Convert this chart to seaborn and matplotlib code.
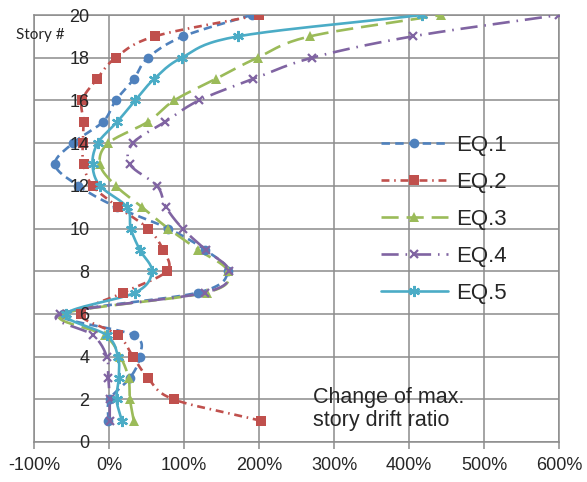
import numpy as np
import pandas as pd
import matplotlib
matplotlib.use("Agg")
import matplotlib.pyplot as plt
import seaborn as sns
from matplotlib.lines import Line2D

stories = list(range(1, 21))
eq1 = [-1, 1, 28, 41, 33, -62, 119, 158, 128, 79, 10, -41, -72, -48, -8, 9, 33, 52, 99, 190]
eq2 = [202, 86, 52, 32, 12, -38, 19, 77, 72, 52, 12, -22, -34, -35, -34, -36, -16, 9, 61, 200]
eq3 = [33, 28, 26, 15, -6, -62, 130, 158, 119, 79, 44, 9, -12, -1, 52, 87, 142, 198, 268, 443]
eq4 = [1, 1, -1, -3, -21, -65, 128, 160, 129, 98, 76, 64, 28, 32, 75, 120, 192, 271, 405, 600]
eq5 = [17, 10, 13, 12, -3, -57, 35, 57, 41, 29, 24, -12, -22, -15, 11, 35, 60, 97, 172, 417]
series_names = ["EQ.1", "EQ.2", "EQ.3", "EQ.4", "EQ.5"]
x_ticks = list(range(-100, 601, 100))
y_ticks = list(range(0, 21, 2))

colors = ["#4F81BD", "#C0504D", "#9BBB59", "#8064A2", "#4BACC6"]
markers = ["o", "s", "^", "x", (6, 2, 0)]
msizes = [7, 6.5, 7.5, 6, 8]
dashes = [(3.2, 2.0), (3.0, 1.8, 0.6, 1.8), (6.5, 3.0), (6.5, 2.6, 0.6, 2.6), None]

def smooth(x, y, n=20):
    x = np.asarray(x, float); y = np.asarray(y, float)
    px = np.concatenate([[2 * x[0] - x[1]], x, [2 * x[-1] - x[-2]]])
    py = np.concatenate([[2 * y[0] - y[1]], y, [2 * y[-1] - y[-2]]])
    t = np.linspace(0, 1, n, endpoint=False)
    xs, ys = [], []
    for i in range(1, len(px) - 2):
        for P, out in ((px, xs), (py, ys)):
            p0, p1, p2, p3 = P[i - 1], P[i], P[i + 1], P[i + 2]
            out.extend(0.5 * ((2 * p1) + (-p0 + p2) * t + (2 * p0 - 5 * p1 + 4 * p2 - p3) * t ** 2
                              + (-p0 + 3 * p1 - 3 * p2 + p3) * t ** 3))
    xs.append(x[-1]); ys.append(y[-1])
    return np.array(xs), np.array(ys)

sns.set_style("white")
plt.rcParams["font.family"] = ["Liberation Sans", "DejaVu Sans"]

fig = plt.figure(figsize=(5.87, 4.82), dpi=100)
ax = fig.add_axes([34 / 587, 40 / 482, 525 / 587, 427 / 482])

grid_c = "#8c8c8c"
for xv in x_ticks:
    ax.axvline(xv, color=grid_c, lw=1.1, zorder=0.6)
for yv in y_ticks:
    ax.axhline(yv, color=grid_c, lw=1.1, zorder=0.6)

all_series = [eq1, eq2, eq3, eq4, eq5]
handles = []
for name, vals, c, m, ms, d in zip(series_names, all_series, colors, markers, msizes, dashes):
    sx, sy = smooth(vals, stories)
    df_s = pd.DataFrame({"x": sx, "y": sy})
    sns.lineplot(data=df_s, x="x", y="y", color=c, lw=1.9, ax=ax, sort=False, estimator=None)
    ln = ax.lines[-1]
    if d is not None:
        ln.set_dashes(d)
    df_p = pd.DataFrame({"x": vals, "y": stories})
    mew = 1.6 if (m == "x" or isinstance(m, tuple)) else 0
    ax.plot(df_p["x"], df_p["y"], marker=m, markersize=ms, color=c, linestyle="none",
            markeredgewidth=mew, zorder=3)
    h = Line2D([0], [0], color=c, lw=1.9, marker=m, markersize=ms, markeredgewidth=mew)
    if d is not None:
        h.set_dashes(d)
    handles.append(h)

ax.set_xlim(-100, 600)
ax.set_ylim(0, 20)
ax.set_xticks(x_ticks)
ax.set_xticklabels([f"{v}%" for v in x_ticks])
ax.set_yticks(y_ticks)
ax.set_yticklabels([str(v) for v in y_ticks])
ax.grid(False)
for s in ax.spines.values():
    s.set_color(grid_c)
    s.set_linewidth(1.1)
    s.set_zorder(0.7)
ax.tick_params(axis="x", length=5, width=1.1, color=grid_c, labelsize=13, pad=6, direction="out", bottom=True)
ax.tick_params(axis="y", length=0, labelsize=13, pad=-40)
ax.xaxis.set_zorder(10)
ax.yaxis.set_zorder(10)
ax.set_xlabel("")
ax.set_ylabel("")

leg = ax.legend(handles, series_names, loc="upper left", bbox_to_anchor=(347 / 525, 1 - 120 / 427),
                frameon=False, fontsize=16, handlelength=3.0, handletextpad=0.4,
                labelspacing=0.72, borderpad=0, borderaxespad=0)

fig.text(16 / 587, 1 - 35 / 482, "Story #", fontsize=11, family=["Lato", "DejaVu Sans"], va="center", ha="left")
fig.text(313 / 587, 1 - 409 / 482, "Change of max.\nstory drift ratio", fontsize=15.5,
         va="center", ha="left", linespacing=1.15)

fig.savefig("out.png", dpi=100)
